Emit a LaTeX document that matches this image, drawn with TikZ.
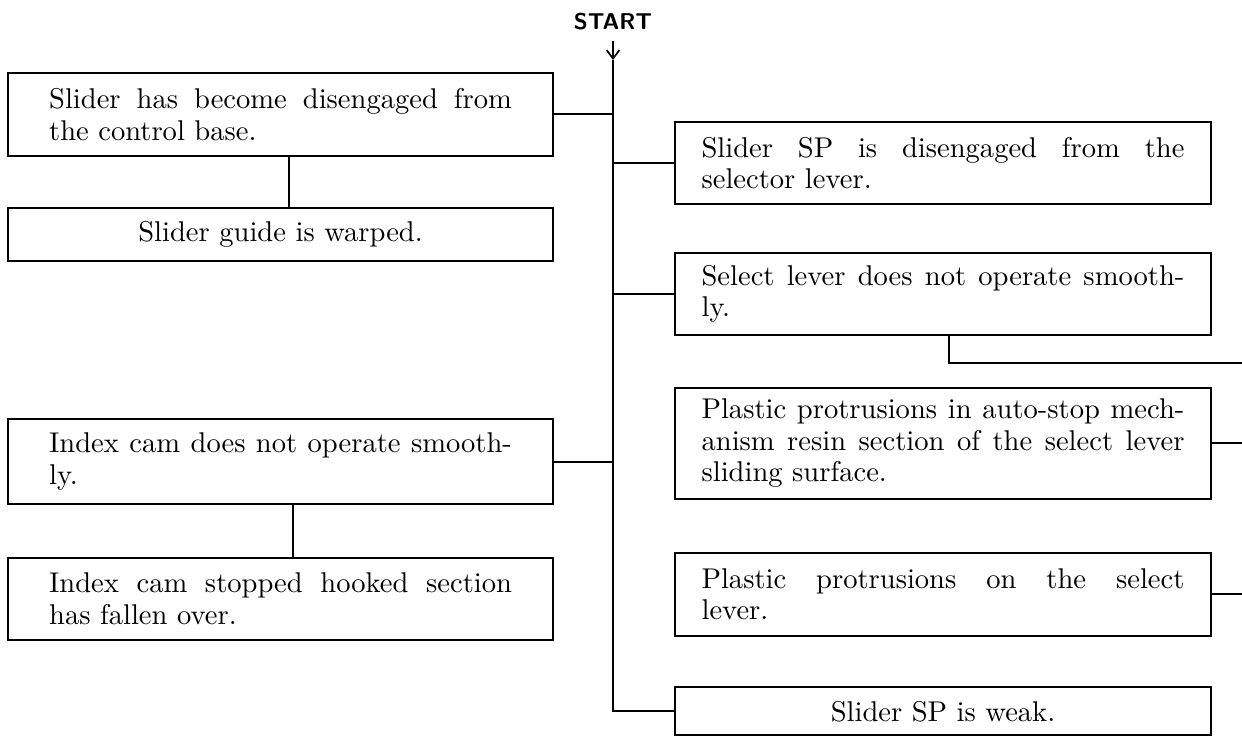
\documentclass[tikz,border=0pt]{standalone}
\usepackage{tikz}
\usetikzlibrary{positioning,arrows.meta,calc}
\hbadness=10000
\hfuzz=2pt

\begin{document}
\begin{tikzpicture}[x=0.35pt, y=-0.35pt,
    node distance=18.5pt,
    lbox/.style={draw, line width=0.7pt, text width=162pt, inner xsep=14.4pt, align=justify, font=\fontsize{10}{11}\selectfont},
    rbox/.style={draw, line width=0.7pt, text width=169pt, inner xsep=9.3pt, align=justify, font=\fontsize{10}{11}\selectfont},
    link/.style={line width=0.7pt},
    arr/.style={-{Straight Barb[length=3pt,width=4.5pt]}, line width=0.6pt}
]
\useasboundingbox (0,0) rectangle (1242,739);

\node[font=\sffamily\bfseries\fontsize{8}{9}\selectfont] (start) at (613,22) {START};
\coordinate (tip) at (613,60);

% left column
\node[lbox, anchor=north west, minimum height=29pt] (detach) at (7,72) {Slider has become disengaged from\linebreak the control base.};
\node[lbox, align=center, minimum height=18.5pt, below=17.5pt of detach] (guide) {Slider guide is warped.};
\node[lbox, anchor=north west, minimum height=29.8pt] (indexcam) at (7,418) {Index cam does not operate smooth-\linebreak ly.};
\node[lbox, minimum height=28.7pt, below=18pt of indexcam] (hooked) {Index cam stopped hooked section\linebreak has fallen over.};

% right column
\node[rbox, anchor=north west, minimum height=28.7pt] (spdis) at (674,121) {Slider SP is disengaged from the\linebreak selector lever.};
\node[rbox, minimum height=28.7pt, below=16.4pt of spdis] (select) {Select lever does not operate smooth-\linebreak ly.};
\node[rbox, minimum height=38.9pt, below=17.8pt of select] (autostop) {Plastic protrusions in auto-stop mech-\linebreak anism resin section of the select lever\linebreak sliding surface.};
\node[rbox, minimum height=29pt, below=18.2pt of autostop] (protrude) {Plastic protrusions on the select\linebreak lever.};
\node[rbox, align=center, minimum height=16.8pt, below=17.4pt of protrude] (weak) {Slider SP is weak.};

\coordinate (out1) at (1242,363);
\coordinate (out2) at (1242,446);

\draw[arr] (start) -- (tip);
\draw[link] (tip) |- (weak.west);
\draw[link] (detach.east) -- (detach.east -| tip);
\draw[link] (indexcam.east) -- (indexcam.east -| tip);
\draw[link] (spdis.west) -- (spdis.west -| tip);
\draw[link] (select.west) -- (select.west -| tip);
\draw[link] ([xshift=3pt]detach.south) -- ([xshift=3pt]guide.north);
\draw[link] ([xshift=4.5pt]indexcam.south) -- ([xshift=4.5pt]hooked.north);
\draw[link] ([xshift=2pt]select.south) |- (out1);
\draw[link] (autostop.east) -- (autostop.east -| out2);
\draw[link] (protrude.east) -- (protrude.east -| out2);
\end{tikzpicture}
\end{document}
